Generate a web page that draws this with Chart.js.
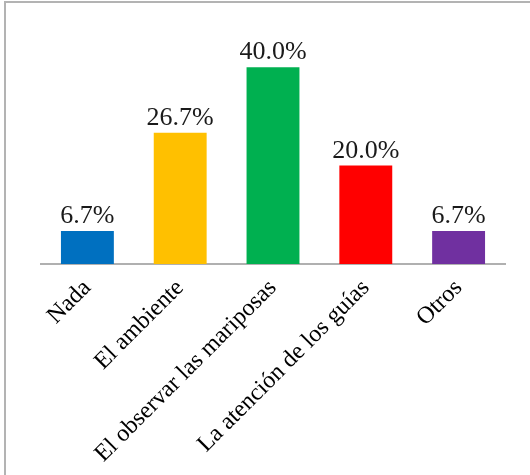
<!DOCTYPE html>
<html>
<head>
<meta charset="utf-8">
<script src="https://cdn.jsdelivr.net/npm/chart.js@4/dist/chart.umd.min.js"></script>
<style>
  html, body { margin: 0; padding: 0; background: #fff; }
  #wrap { position: relative; width: 530px; height: 475px; }
  #frame { position: absolute; left: 4px; top: 1px; right: 0; bottom: 0;
           border-left: 2px solid #b3b3b3; border-top: 2px solid #b3b3b3; }
  canvas { position: absolute; left: 0; top: 0; }
</style>
</head>
<body>
<div id="wrap">
  <div id="frame"></div>
  <canvas id="chart" width="530" height="475"></canvas>
</div>
<script>
// Respuestas y porcentajes
const categories = ['Nada', 'El ambiente', 'El observar las mariposas', 'La atención de los guías', 'Otros'];
const percentages = [6.7, 26.7, 40.0, 20.0, 6.7];
const barColors = ['#0070c0', '#ffc000', '#00b050', '#ff0000', '#7030a0'];

const serif = '"Liberation Serif", "Times New Roman", serif';

// Draw the value above each bar
const valueLabels = {
  id: 'valueLabels',
  afterDatasetsDraw(chart) {
    const ctx = chart.ctx;
    const meta = chart.getDatasetMeta(0);
    ctx.save();
    ctx.font = '26px ' + serif;
    ctx.fillStyle = '#1a1a1a';
    ctx.textAlign = 'center';
    ctx.textBaseline = 'alphabetic';
    meta.data.forEach((bar, i) => {
      ctx.fillText(percentages[i].toFixed(1) + '%', bar.x, bar.y - 8);
    });
    ctx.restore();
  }
};

new Chart(document.getElementById('chart'), {
  type: 'bar',
  data: {
    labels: categories,
    datasets: [{
      data: percentages,
      backgroundColor: barColors,
      barPercentage: 0.57,
      categoryPercentage: 1
    }]
  },
  options: {
    responsive: false,
    animation: false,
    layout: { padding: { left: 41, right: 25, top: 18, bottom: 0 } },
    plugins: {
      legend: { display: false },
      tooltip: { enabled: false }
    },
    scales: {
      x: {
        grid: { display: false },
        border: { display: true, color: '#b0b0b0', width: 2 },
        ticks: {
          color: '#000',
          font: { family: serif, size: 24 },
          maxRotation: 45,
          minRotation: 45,
          padding: 2
        },
        afterFit(scale) { scale.height = 211; }
      },
      y: {
        display: false,
        min: 0,
        max: 50
      }
    }
  },
  plugins: [valueLabels]
});
</script>
</body>
</html>
